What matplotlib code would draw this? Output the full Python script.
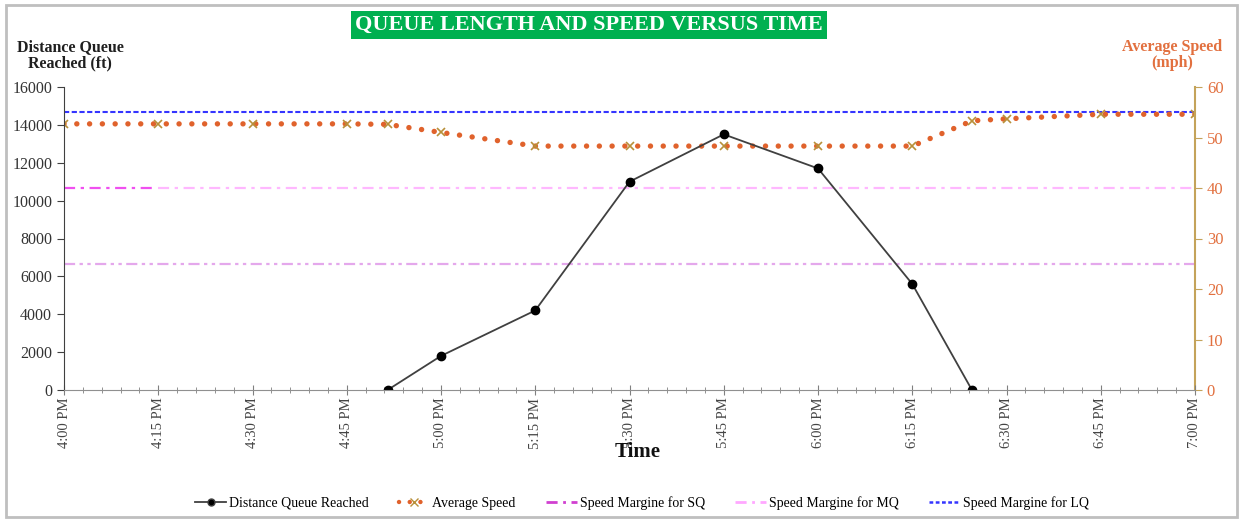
import matplotlib
matplotlib.use("Agg")
import matplotlib.pyplot as plt
from matplotlib.patches import Rectangle
from matplotlib.ticker import MultipleLocator

plt.rcParams["font.family"] = ["Liberation Serif", "DejaVu Serif"]

# minutes after 4:00 PM
times = [0, 15, 30, 45, 51.5, 60, 75, 90, 105, 120, 135, 144.5, 150, 165, 180]
queue_t = [51.5, 60, 75, 90, 105, 120, 135, 144.5]
queue_ft = [0, 1800, 4200, 11000, 13500, 11700, 5600, 0]
speed_mph = [52.7, 52.7, 52.7, 52.7, 52.6, 51.0, 48.3, 48.3, 48.3, 48.3, 48.3,
             53.3, 53.7, 54.6, 54.6]
sq_t = [0, 14]
sq_mph = [40, 40]
mq_t = [15, 180]
mq_mph = [40, 40]
low_t = [0, 180]
low_mph = [25, 25]
lq_t = [0, 180]
lq_mph = [55, 55]
tick_t = list(range(0, 181, 15))
tick_labels = ["4:00 PM", "4:15 PM", "4:30 PM", "4:45 PM", "5:00 PM", "5:15 PM",
               "5:30 PM", "5:45 PM", "6:00 PM", "6:15 PM", "6:30 PM", "6:45 PM",
               "7:00 PM"]

ORANGE = "#E0622C"
ORANGE_TXT = "#E2703F"
GOLD = "#C4A35A"
XMARK = "#B8903A"

fig = plt.figure(figsize=(12.44, 5.19), dpi=100)
fig.patches.append(Rectangle((6 / 1244, 2 / 519), 1231 / 1244, 512 / 519,
                             transform=fig.transFigure, fill=False,
                             edgecolor="#BFBFBF", lw=2))

ax = fig.add_axes([64 / 1244, 1 - 390 / 519, (1195 - 64) / 1244, (390 - 87) / 519])
ax2 = ax.twinx()

# speed lines on the secondary axis
ax2.plot(low_t, low_mph, color="#E4A8EC", lw=1.6, dashes=(5, 2, 1.5, 2, 1.5, 2))
ax2.plot(mq_t, mq_mph, color="#FFB8FF", lw=1.6, dashes=(5, 2.5, 1.5, 2.5))
ax2.plot(sq_t, sq_mph, color="#F050F0", lw=1.6, dashes=(5, 2.5, 1.5, 2.5))
ax2.plot(lq_t, lq_mph, color="#3535FF", lw=1.5, dashes=(2.5, 1.2))
ax2.plot(times, speed_mph, color=ORANGE, lw=3.9, dashes=(0.01, 2.35),
         dash_capstyle="round", marker="x", ms=6, mec=XMARK, mew=1.2)
ax2.set_ylim(0, 60)
ax2.yaxis.set_major_locator(MultipleLocator(10))
ax2.tick_params(axis="y", colors=GOLD, labelcolor=ORANGE_TXT, labelsize=12,
                direction="out", length=5)

# queue length on the primary axis, drawn above the twin axis
ax.set_zorder(ax2.get_zorder() + 1)
ax.patch.set_visible(False)
ax.plot(queue_t, queue_ft, color="#404040", lw=1.3, marker="o", ms=6,
        mfc="black", mec="black")
ax.set_ylim(0, 16000)
ax.set_xlim(0, 180)
ax.yaxis.set_major_locator(MultipleLocator(2000))
ax.set_xticks(tick_t)
ax.set_xticklabels(tick_labels, rotation=90, fontsize=10.5, color="#444444")
ax.xaxis.set_minor_locator(MultipleLocator(3))
ax.tick_params(axis="x", direction="inout", length=7, colors="#808080",
               labelcolor="#444444", pad=2)
ax.tick_params(axis="x", which="minor", direction="inout", length=4, colors="#808080")
ax.tick_params(axis="y", direction="out", length=5, labelsize=11.5,
               labelcolor="#333333", colors="#404040")

for a in (ax, ax2):
    for side in ("top", "left", "right", "bottom"):
        a.spines[side].set_visible(False)
ax.spines["left"].set_visible(True)
ax.spines["left"].set_color("#404040")
ax.spines["bottom"].set_visible(True)
ax.spines["bottom"].set_color("#909090")
ax2.spines["right"].set_visible(True)
ax2.spines["right"].set_color(GOLD)
ax2.spines["right"].set_linewidth(1.5)

fig.text(589 / 1244, 1 - 25 / 519, "QUEUE LENGTH AND SPEED VERSUS TIME",
         ha="center", va="center", color="white", fontsize=16, fontweight="bold",
         bbox=dict(boxstyle="square,pad=0.2", facecolor="#00B050", edgecolor="none"))
fig.text(70 / 1244, 1 - 55 / 519, "Distance Queue\nReached (ft)", ha="center",
         va="center", fontsize=11.5, fontweight="bold", color="#1F1F1F",
         linespacing=1.05)
fig.text(1172 / 1244, 1 - 55 / 519, "Average Speed\n(mph)", ha="center",
         va="center", fontsize=11.5, fontweight="bold", color=ORANGE_TXT,
         linespacing=1.05)
fig.text(638 / 1244, 1 - 452 / 519, "Time", ha="center", va="center",
         fontsize=15, fontweight="bold", color="#111111")

# legend
h_q, = ax.plot([], [], color="#404040", lw=1.3, marker="o", ms=5, mfc="black")
h_s, = ax.plot([], [], color=ORANGE, lw=3.2, dashes=(0.01, 2.4),
               dash_capstyle="round", marker="x", ms=6, mec=XMARK)
h_sq, = ax.plot([], [], color="#D040D0", lw=2, dashes=(4, 2, 1, 2))
h_mq, = ax.plot([], [], color="#FFA8FF", lw=2, dashes=(4, 2, 1, 2))
h_lq, = ax.plot([], [], color="#3535FF", lw=1.8, dashes=(1.5, 1))
fig.legend([h_q, h_s, h_sq, h_mq, h_lq],
           ["Distance Queue Reached", "Average Speed", "Speed Margine for SQ",
            "Speed Margine for MQ", "Speed Margine for LQ"],
           loc="center", bbox_to_anchor=(642 / 1244, 1 - 503 / 519), ncol=5,
           frameon=False, fontsize=10, handlelength=2.2, columnspacing=2.2,
           handletextpad=0.2)

fig.savefig("out.png", dpi=100)
